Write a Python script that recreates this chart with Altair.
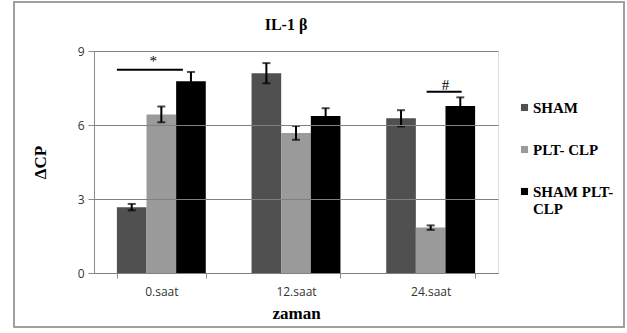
import altair as alt
import pandas as pd

groups = ["0.saat", "12.saat", "24.saat"]
series = ["SHAM", "PLT- CLP", "SHAM PLT-CLP"]
colors = ["#505050", "#9a9a9a", "#000000"]

sham = [2.67, 8.10, 6.27]
sham_err = [0.13, 0.41, 0.33]
plt_clp = [6.43, 5.68, 1.84]
plt_clp_err = [0.32, 0.28, 0.09]
sham_plt = [7.77, 6.36, 6.77]
sham_plt_err = [0.38, 0.32, 0.35]

# significance markers (x in category units, 0..3)
sig_x1 = [0.17, 2.47]
sig_x2 = [0.66, 2.73]
sig_y = [8.24, 7.35]
sig_text_y = [8.39, 7.42]
sig_text_x = [0.44, 2.61]
sig_symbols = ["*", "#"]

rows = []
for vals, errs, s in [(sham, sham_err, series[0]), (plt_clp, plt_clp_err, series[1]), (sham_plt, sham_plt_err, series[2])]:
    for g, v, e in zip(groups, vals, errs):
        rows.append({"zaman": g, "series": s, "value": v, "lo": v - e, "hi": v + e})
df = pd.DataFrame(rows)

sig = pd.DataFrame({"x1": sig_x1, "x2": sig_x2, "y": sig_y, "ty": sig_text_y, "tx": sig_text_x, "sym": sig_symbols})

serif = "Liberation Serif"
sans = "Open Sans"

yscale = alt.Scale(domain=[0, 9])
xscale = alt.Scale(paddingInner=0.34, paddingOuter=0.17)
offscale = alt.Scale(domain=series, paddingInner=0, paddingOuter=0)

base = alt.Chart(df)

bars = base.mark_bar().encode(
    x=alt.X("zaman:N", sort=groups, scale=xscale,
            axis=alt.Axis(title="zaman", labelAngle=0, tickBand="extent", grid=False,
                          labelFont=sans, labelFontSize=12, labelColor="#333333", labelPadding=8,
                          titleFont=serif, titleFontSize=17, titleFontWeight="bold", titleColor="#000000",
                          titlePadding=8, domainColor="#8a8a8a", tickColor="#8a8a8a", tickSize=5)),
    xOffset=alt.XOffset("series:N", sort=series, scale=offscale),
    y=alt.Y("value:Q", scale=yscale,
            axis=alt.Axis(title="ΔCP", values=[0, 3, 6, 9], grid=True, gridColor="#808080", gridWidth=1,
                          zindex=1, labelFont=sans, labelFontSize=12, labelColor="#333333", labelPadding=4,
                          titleFont=serif, titleFontSize=17, titleFontWeight="bold", titleColor="#000000",
                          titlePadding=28, domainColor="#8a8a8a", tickColor="#8a8a8a", tickSize=6)),
    color=alt.Color("series:N", sort=series, scale=alt.Scale(domain=series, range=colors),
                    legend=alt.Legend(title=None, orient="none", legendX=423, legendY=49,
                                      symbolType="square", symbolSize=50, symbolStrokeWidth=0,
                                      labelFont=serif, labelFontSize=15, labelFontWeight="bold",
                                      labelColor="#000000", rowPadding=26, labelOffset=1,
                                      labelExpr="datum.label == 'SHAM PLT-CLP' ? ['SHAM PLT-', 'CLP'] : datum.label")),
)

err = base.mark_rule(color="#000000", strokeWidth=2).encode(
    x=alt.X("zaman:N", sort=groups, scale=xscale),
    xOffset=alt.XOffset("series:N", sort=series, scale=offscale),
    y=alt.Y("lo:Q", scale=yscale),
    y2="hi:Q",
)
cap_hi = base.mark_tick(color="#000000", thickness=2, size=8).encode(
    x=alt.X("zaman:N", sort=groups, scale=xscale),
    xOffset=alt.XOffset("series:N", sort=series, scale=offscale),
    y=alt.Y("hi:Q", scale=yscale),
)
cap_lo = base.mark_tick(color="#000000", thickness=2, size=8).encode(
    x=alt.X("zaman:N", sort=groups, scale=xscale),
    xOffset=alt.XOffset("series:N", sort=series, scale=offscale),
    y=alt.Y("lo:Q", scale=yscale),
)

main = alt.layer(bars, err, cap_hi, cap_lo)

sbase = alt.Chart(sig)
sig_lines = sbase.mark_rule(color="#000000", strokeWidth=2).encode(
    x=alt.X("x1:Q", scale=alt.Scale(domain=[0, 3]), axis=None),
    x2="x2:Q",
    y=alt.Y("y:Q", scale=yscale),
)
sig_txt = sbase.mark_text(font=serif, fontSize=15, color="#000000", baseline="alphabetic").encode(
    x=alt.X("tx:Q", scale=alt.Scale(domain=[0, 3]), axis=None),
    y=alt.Y("ty:Q", scale=yscale),
    text="sym:N",
)
border = sbase.mark_rect(fill=None, stroke="#9a9a9a", strokeWidth=1.5).encode(
    x=alt.value(-80), x2=alt.value(530), y=alt.value(-49), y2=alt.value(276)
)
annot = alt.layer(sig_lines, sig_txt, border)

chart = alt.layer(main, annot).resolve_scale(x="independent").properties(
    width=404, height=222,
    title=alt.Title("IL-1 β", font=serif, fontSize=16, fontWeight="bold", color="#000000",
                    offset=-32, dx=-10, frame="group"),
    padding={"left": 94, "top": 51, "right": 129, "bottom": 60},
    autosize=alt.AutoSizeParams(type="none"),
).configure_view(stroke=None).configure(background="#ffffff")

chart.save("out.html", embed_options={"renderer": "svg", "actions": False})
